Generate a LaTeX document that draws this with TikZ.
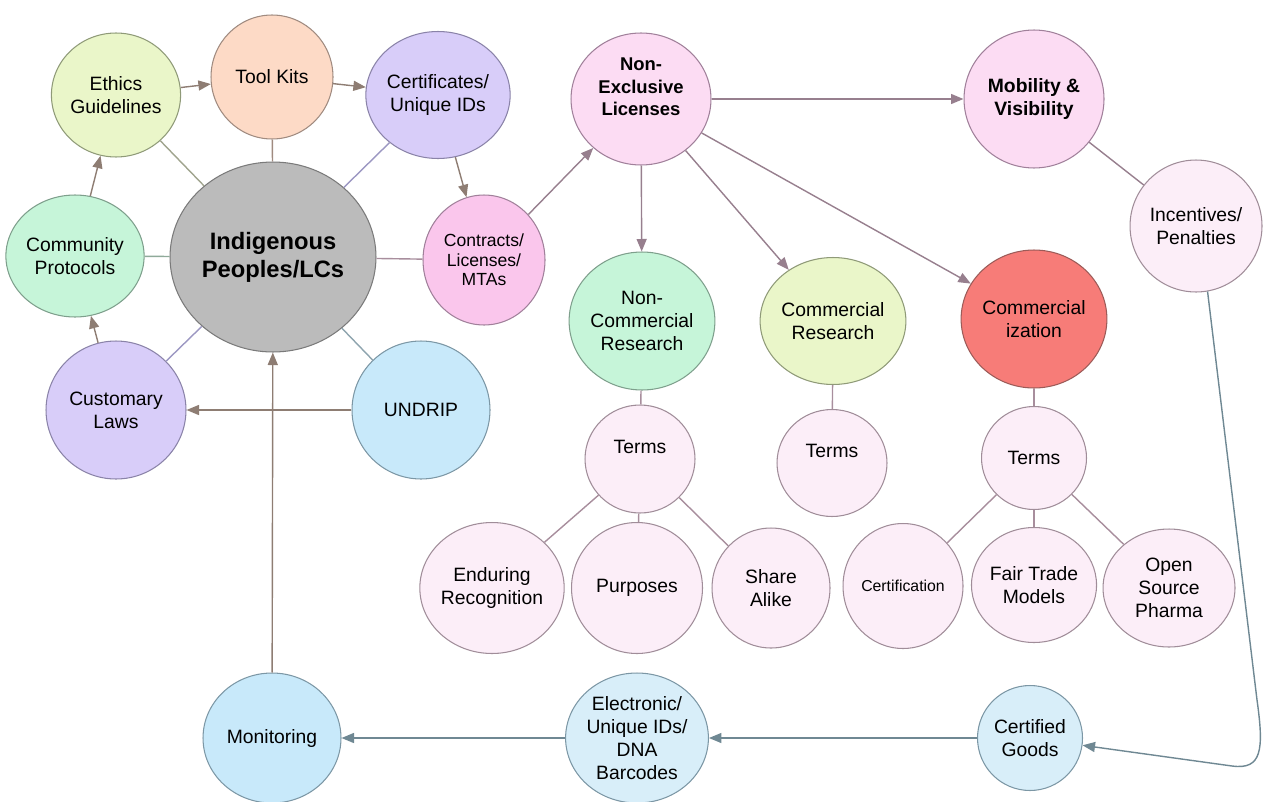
\documentclass[tikz,border=0pt]{standalone}
\usepackage{fontspec}
\setmainfont{Liberation Sans}
\usetikzlibrary{arrows.meta,shapes.geometric}
% fills
\definecolor{fcore}{HTML}{BBBBBB}
\definecolor{fyel}{HTML}{EAF6C9}
\definecolor{fpeach}{HTML}{FDDAC6}
\definecolor{flilac}{HTML}{D8CDF9}
\definecolor{fmint}{HTML}{C6F5D9}
\definecolor{frose}{HTML}{FAC6EC}
\definecolor{fblush}{HTML}{FCDCF3}
\definecolor{fpale}{HTML}{FCEEF8}
\definecolor{fsky}{HTML}{C8E9FA}
\definecolor{fice}{HTML}{D8EEF9}
\definecolor{fhot}{HTML}{F77C78}
% borders and connectors
\definecolor{dcore}{HTML}{7A7A7A}
\definecolor{dyel}{HTML}{8F9A78}
\definecolor{dpeach}{HTML}{A08B80}
\definecolor{dlilac}{HTML}{8A83A8}
\definecolor{dmint}{HTML}{7E9F8C}
\definecolor{drose}{HTML}{A0809A}
\definecolor{dpale}{HTML}{A08D99}
\definecolor{dsky}{HTML}{7C97A5}
\definecolor{dhot}{HTML}{9C5B58}
\definecolor{etaupe}{HTML}{8E7D73}
\definecolor{emauve}{HTML}{977F8E}
\definecolor{eslate}{HTML}{6F8893}
\definecolor{eolive}{HTML}{A0A48E}
\definecolor{elilac}{HTML}{9C97C2}
\definecolor{emint}{HTML}{8FAA9A}
\definecolor{epink}{HTML}{A88E9D}
\definecolor{esky}{HTML}{8EA4AE}
\tikzset{
  bub/.style={draw, ellipse, inner sep=0pt, align=center, line width=0.6pt, font=\fontsize{11}{13}\selectfont},
  sz/.style 2 args={minimum width=#1cm, minimum height=#2cm},
  core/.style={fill=fcore, draw=dcore},
  yel/.style={fill=fyel, draw=dyel},
  peach/.style={fill=fpeach, draw=dpeach},
  lilac/.style={fill=flilac, draw=dlilac},
  mint/.style={fill=fmint, draw=dmint},
  rose/.style={fill=frose, draw=drose},
  blush/.style={fill=fblush, draw=drose},
  pale/.style={fill=fpale, draw=dpale},
  sky/.style={fill=fsky, draw=dsky},
  ice/.style={fill=fice, draw=dsky},
  hot/.style={fill=fhot, draw=dhot},
  lnk/.style={line width=0.8pt},
  arr/.style={-{Triangle[length=2.5mm,width=2mm]}, line width=0.8pt}
}
\begin{document}
\begin{tikzpicture}[x=0.02cm, y=-0.02cm]
  \useasboundingbox (0,0) rectangle (1263,801);

  % left cluster
  \node[bub, core, sz={4.12}{3.8}, font=\bfseries\fontsize{13.5}{16}\selectfont] (ipl) at (273,257) {Indigenous\\Peoples/LCs};
  \node[bub, yel, sz={2.44}{2.48}] (ethics) at (116,95) {Ethics\\Guidelines};
  \node[bub, peach, sz={2.44}{2.48}] (tools) at (272,77) {Tool Kits};
  \node[bub, lilac, sz={2.8}{2.54}] (certs) at (438,95) {Certificates/\\Unique IDs};
  \node[bub, mint, sz={2.64}{2.44}] (protocols) at (75,256) {Community\\Protocols};
  \node[bub, rose, sz={2.44}{2.6}, font=\fontsize{10}{11}\selectfont] (contracts) at (484,260) {Contracts/\\Licenses/\\MTAs};
  \node[bub, lilac, sz={2.8}{2.76}] (laws) at (116,410) {Customary\\Laws};
  \node[bub, sky, sz={2.76}{2.76}] (undrip) at (421,410) {UNDRIP};
  \node[bub, sky, sz={2.76}{2.6}] (monitor) at (272,738) {Monitoring};

  % licences and research
  \node[bub, blush, sz={2.8}{2.64}, font=\bfseries\fontsize{10.5}{12.8}\selectfont] (nel) at (641,99) {Non-\\Exclusive\\Licenses\\[1pt]\mbox{}};
  \node[bub, blush, sz={2.8}{2.76}, font=\bfseries\fontsize{11}{12.8}\selectfont] (mobility) at (1034,99) {Mobility \&\\Visibility};
  \node[bub, pale, sz={2.64}{2.64}] (incent) at (1196,226) {Incentives/\\Penalties};
  \node[bub, mint, sz={2.8}{2.76}] (noncomm) at (642,321) {Non-\\Commercial\\Research};
  \node[bub, yel, sz={2.76}{2.54}] (commres) at (833,321) {Commercial\\Research};
  \node[bub, hot, sz={2.8}{2.76}] (commz) at (1034,319) {Commercial\\ization};

  % terms
  \node[bub, pale, sz={2.2}{2.16}] (terms1) at (640,459) {Terms\\[0.5pt]\mbox{}};
  \node[bub, pale, sz={2.2}{2.14}] (terms2) at (832,463) {Terms\\[0.5pt]\mbox{}};
  \node[bub, pale, sz={2.1}{2.06}] (terms3) at (1034,458) {Terms};
  \node[bub, pale, sz={2.8}{2.62}] (endur) at (492,588) {Enduring\\Recognition};
  \node[bub, pale, sz={2.62}{2.62}] (purp) at (637,588) {Purposes};
  \node[bub, pale, sz={2.36}{2.4}] (share) at (771,588) {Share\\Alike};
  \node[bub, pale, sz={2.4}{2.5}, font=\fontsize{9}{11}\selectfont] (certif) at (903,586) {Certification};
  \node[bub, pale, sz={2.4}{2.3}] (fair) at (1034,585) {Fair Trade\\Models};
  \node[bub, pale, sz={2.64}{2.36}] (open) at (1169,588) {Open\\Source\\Pharma};

  % bottom row
  \node[bub, ice, sz={2.8}{2.6}] (elec) at (637,738) {Electronic/\\Unique IDs/\\DNA\\Barcodes};
  \node[bub, ice, sz={2.1}{2.1}] (goods) at (1030,738) {Certified\\Goods};
  \coordinate (drop) at (1257,700);

  % links round the core
  \draw[lnk, eolive] (ethics) -- (ipl);
  \draw[lnk, dpeach] (tools) -- (ipl);
  \draw[lnk, elilac] (certs) -- (ipl);
  \draw[lnk, emint] (protocols) -- (ipl);
  \draw[lnk, epink] (contracts) -- (ipl);
  \draw[lnk, elilac] (laws) -- (ipl);
  \draw[lnk, esky] (undrip) -- (ipl);

  \draw[arr, etaupe] (ethics) -- (tools);
  \draw[arr, etaupe] (tools) -- (certs);
  \draw[arr, etaupe] (certs) -- (contracts);
  \draw[arr, etaupe] (protocols) -- (ethics);
  \draw[arr, etaupe] (laws) -- (protocols);
  \draw[arr, etaupe] (undrip) -- (laws);
  \draw[arr, etaupe] (monitor) -- (ipl);

  \draw[arr, emauve] (contracts) -- (nel);
  \draw[arr, emauve] (nel) -- (mobility);
  \draw[arr, emauve] (nel) -- (noncomm);
  \draw[arr, emauve] (nel) -- (commres);
  \draw[arr, emauve] (nel) -- (commz);
  \draw[lnk, emauve] (mobility) -- (incent);

  \draw[lnk, epink] (noncomm) -- (terms1);
  \draw[lnk, epink] (commres) -- (terms2);
  \draw[lnk, epink] (commz) -- (terms3);
  \draw[lnk, epink] (terms1) -- (endur);
  \draw[lnk, epink] (terms1) -- (purp);
  \draw[lnk, epink] (terms1) -- (share);
  \draw[lnk, epink] (terms3) -- (certif);
  \draw[lnk, epink] (terms3) -- (fair);
  \draw[lnk, epink] (terms3) -- (open);

  % back to monitoring
  \draw[arr, eslate] (incent.-80) -- (drop) .. controls (1264,750) and (1262,770) .. (1232,766) -- (goods);
  \draw[arr, eslate] (goods) -- (elec);
  \draw[arr, eslate] (elec) -- (monitor);
\end{tikzpicture}
\end{document}
